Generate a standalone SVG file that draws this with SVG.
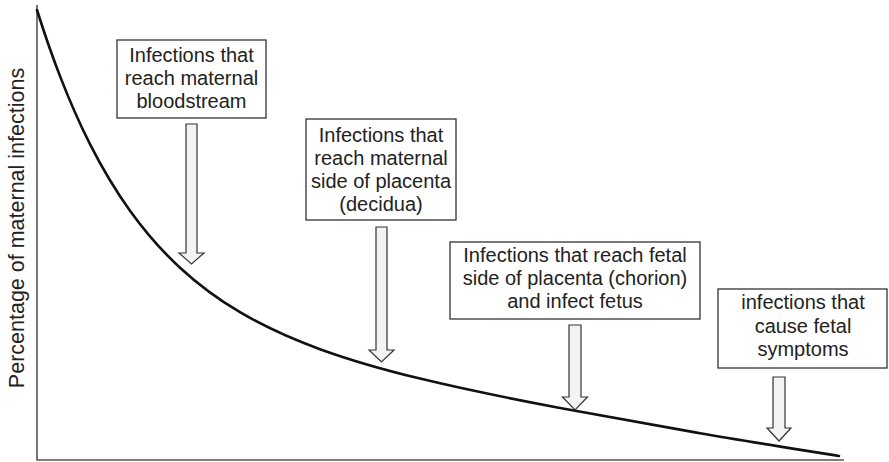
<svg xmlns="http://www.w3.org/2000/svg" width="889" height="462" viewBox="0 0 889 462">
  <style>
    .axis { fill: none; stroke: #555; stroke-width: 1.6; }
    .curve { fill: none; stroke: #111; stroke-width: 2.6; stroke-linecap: round; stroke-linejoin: round; }
    .box { fill: #fff; stroke: #333; stroke-width: 1.3; }
    .arrow { fill: #f3f3f3; stroke: #333; stroke-width: 1.2; stroke-linejoin: miter; }
    .label { font-family: "Liberation Sans", Arial, sans-serif; font-size: 20px; fill: #222; text-anchor: middle; }
    .ylabel { font-family: "Liberation Sans", Arial, sans-serif; font-size: 21.5px; fill: #222; text-anchor: middle; }
  </style>
  <rect width="889" height="462" fill="#fff"/>

  <!-- axes -->
  <g id="axes">
    <path class="axis" d="M37,5 V460 H844"/>
    <text class="ylabel" transform="translate(24,228) rotate(-90)">Percentage of maternal infections</text>
  </g>

  <!-- decay curve: exponential fall-off plus a slight linear slope, as Hermite cubic segments -->
  <g id="curve">
    <path class="curve" d="M37,10 C44.67,34.45 52.33,56.28 60,76.1 C70,101.95 80,124.35 90,144.1 C103.33,170.43 116.67,192.11 130,210.7 C146.67,233.93 163.33,252.32 180,267.7 C200,286.16 220,300.38 240,312.2 C266.67,327.96 293.33,339.49 320,349.2 C353.33,361.33 386.67,370.5 420,378.6 C466.67,389.94 513.33,399.18 560,408 C606.67,416.82 653.33,425.03 700,433.2 C746.33,441.31 792.67,448.5 839,456"/>
  </g>

  <!-- label boxes -->
  <g id="node-bloodstream">
    <rect class="box" x="117" y="40" width="149" height="78"/>
    <text class="label" x="191.5" y="62">Infections that</text>
    <text class="label" x="191.5" y="85">reach maternal</text>
    <text class="label" x="191.5" y="108">bloodstream</text>
  </g>

  <g id="node-decidua">
    <rect class="box" x="306" y="119" width="150" height="101"/>
    <text class="label" x="381" y="142">Infections that</text>
    <text class="label" x="381" y="165">reach maternal</text>
    <text class="label" x="381" y="188">side of placenta</text>
    <text class="label" x="381" y="211">(decidua)</text>
  </g>

  <g id="node-chorion">
    <rect class="box" x="450" y="242" width="250" height="77"/>
    <text class="label" x="575" y="262">Infections that reach fetal</text>
    <text class="label" x="575" y="285">side of placenta (chorion)</text>
    <text class="label" x="575" y="308">and infect fetus</text>
  </g>

  <g id="node-symptoms">
    <rect class="box" x="718" y="289" width="169" height="79"/>
    <text class="label" x="803" y="309">infections that</text>
    <text class="label" x="803" y="333">cause fetal</text>
    <text class="label" x="803" y="356">symptoms</text>
  </g>

  <!-- block arrows pointing down to the curve -->
  <g id="connectors">
    <polygon class="arrow" points="186,124 197,124 197,253 204,253 191.5,264 179,253 186,253"/>
    <polygon class="arrow" points="376,227 387,227 387,350 394,350 381.5,362 369,350 376,350"/>
    <polygon class="arrow" points="569,325 581,325 581,397 587.5,397 575,410 562.5,397 569,397"/>
    <polygon class="arrow" points="773,377 785,377 785,428 791,428 779,441 767,428 773,428"/>
  </g>
</svg>
